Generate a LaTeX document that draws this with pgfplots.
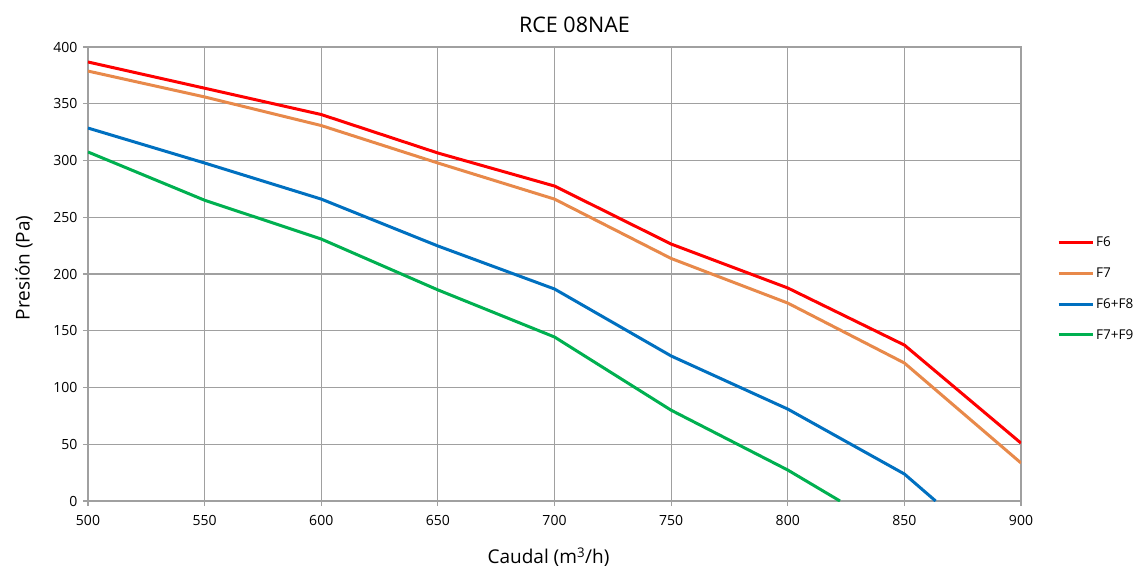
\documentclass[border=0pt]{standalone}
\usepackage{pgfplots}
\pgfplotsset{compat=1.18}
\usepackage{fontspec}
\setmainfont{Open Sans}
\definecolor{cF6}{RGB}{255,0,0}
\definecolor{cF7}{RGB}{232,137,74}
\definecolor{cF68}{RGB}{0,112,192}
\definecolor{cF79}{RGB}{0,176,80}
\definecolor{gridc}{RGB}{160,160,160}
\newcommand{\tlfont}{\fontsize{14}{16}\selectfont}
\begin{document}
\begin{tikzpicture}[x=1pt,y=1pt]
\path[use as bounding box] (0,0) rectangle (1136,-573);
\begin{axis}[
  at={(88pt,-501pt)}, anchor=south west,
  scale only axis, width=933pt, height=454pt,
  xmin=500, xmax=900, ymin=0, ymax=400,
  xtick={500,550,...,900}, ytick={0,50,...,400},
  grid=major, major grid style={gridc, line width=1.2pt},
  axis line style={gridc, line width=1.2pt},
  tick style={gridc, line width=1.2pt},
  tick align=outside, major tick length=5pt,
  xtick pos=bottom, ytick pos=left,
  /pgf/number format/assume math mode=true,
  /pgf/number format/1000 sep={},
  xticklabel style={font=\tlfont, yshift=-6pt},
  yticklabel style={font=\tlfont, xshift=-2pt},
  title={RCE 08NAE}, title style={font=\fontsize{21.5}{24}\selectfont, at={(0.5,1)}, xshift=20pt, yshift=5pt},
  xlabel={Caudal (m\textsuperscript{3}/h)}, xlabel style={font=\fontsize{19}{22}\selectfont, xshift=-6pt, yshift=-15pt},
  ylabel={Presión (Pa)}, ylabel style={font=\fontsize{19}{22}\selectfont, xshift=6pt, yshift=14pt},
  legend style={at={(1.0386,0.586)}, anchor=north west, draw=none, fill=none,
    font=\fontsize{13.5}{15}\selectfont, row sep=15.5pt, inner sep=0pt},
  legend cell align=left,
  legend image code/.code={\draw[#1, line width=3pt] (0pt,0pt) -- (34pt,0pt);},
  every axis plot/.append style={line width=3pt, mark=none},
]
\addplot[cF6] coordinates {(500,386.8) (550,363.7) (600,340.5) (650,306.6) (700,277.5) (750,226.4) (800,187.7) (850,137.4) (900,51)};
\addlegendentry{F6}
\addplot[cF7] coordinates {(500,378.8) (550,356) (600,330.8) (650,297.8) (700,266) (750,213.7) (800,174.4) (850,121.6) (900,33.5)};
\addlegendentry{F7}
\addplot[cF68] coordinates {(500,328.6) (550,297.8) (600,266) (650,224.7) (700,186.8) (750,127.8) (800,81) (850,23.8) (863.4,0)};
\addlegendentry{F6+F8}
\addplot[cF79] coordinates {(500,307.5) (550,265) (600,230.8) (650,186) (700,144.5) (750,80) (800,27.3) (822.4,0)};
\addlegendentry{F7+F9}
\end{axis}
\end{tikzpicture}
\end{document}
